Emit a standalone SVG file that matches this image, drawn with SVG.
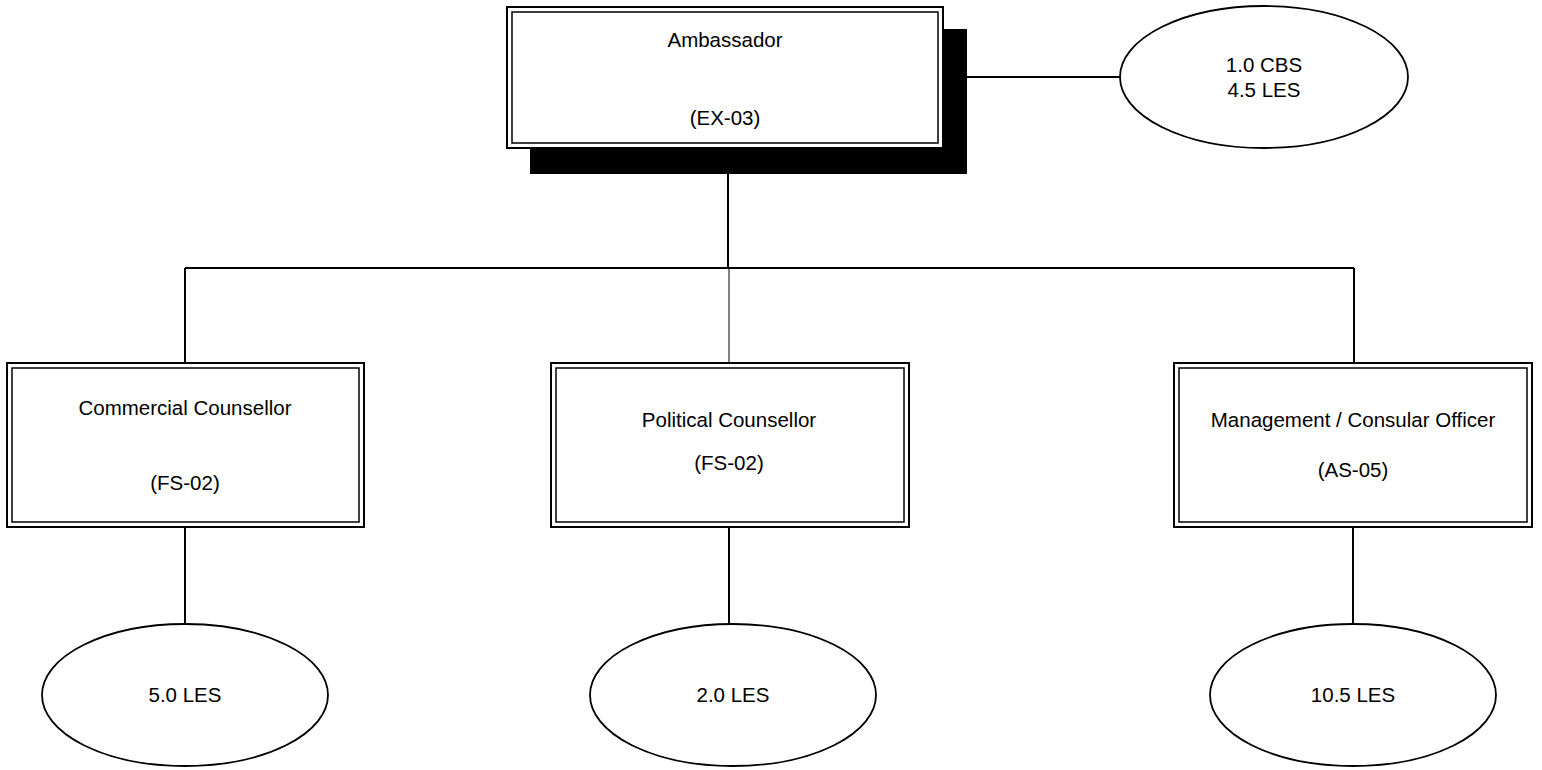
<svg xmlns="http://www.w3.org/2000/svg" width="1542" height="770" viewBox="0 0 1542 770">
<style>
.box{fill:#fff;stroke:#000;stroke-width:2}
.inner{fill:none;stroke:#000;stroke-width:1.5}
.ell{fill:#fff;stroke:#000;stroke-width:1.8}
.ln{stroke:#000;stroke-width:2;fill:none}
.thin{stroke:#000;stroke-width:1;fill:none}
text{font-family:"Liberation Sans",Arial,sans-serif;font-size:20.5px;fill:#000;text-anchor:middle}
</style>
<rect width="1542" height="770" fill="#fff"/>
<g id="connectors">
<line class="ln" x1="967" y1="77" x2="1120" y2="77"/>
<line class="ln" x1="728" y1="174" x2="728" y2="268"/>
<line class="ln" x1="185" y1="268" x2="1354" y2="268"/>
<line class="ln" x1="185" y1="268" x2="185" y2="363"/>
<line class="thin" x1="729" y1="268" x2="729" y2="363"/>
<line class="ln" x1="1354" y1="268" x2="1354" y2="363"/>
<line class="ln" x1="185" y1="527" x2="185" y2="624"/>
<line class="ln" x1="729" y1="527" x2="729" y2="624"/>
<line class="ln" x1="1353" y1="527" x2="1353" y2="624"/>
</g>
<g id="ambassador">
<rect x="530" y="29" width="437" height="145" fill="#000"/>
<rect class="box" x="507" y="7" width="436" height="141"/>
<rect class="inner" x="512" y="12" width="426" height="131"/>
<text x="725" y="47">Ambassador</text>
<text x="725" y="125">(EX-03)</text>
</g>
<g id="cbs">
<ellipse class="ell" cx="1264" cy="77" rx="144" ry="71"/>
<text x="1264" y="72">1.0 CBS</text>
<text x="1264" y="97">4.5 LES</text>
</g>
<g id="commercial">
<rect class="box" x="7" y="363" width="357" height="164"/>
<rect class="inner" x="12" y="368" width="347" height="154"/>
<text x="185" y="415">Commercial Counsellor</text>
<text x="185" y="490">(FS-02)</text>
</g>
<g id="political">
<rect class="box" x="551" y="363" width="358" height="164"/>
<rect class="inner" x="556" y="368" width="348" height="154"/>
<text x="729" y="427">Political Counsellor</text>
<text x="729" y="470">(FS-02)</text>
</g>
<g id="management">
<rect class="box" x="1174" y="363" width="358" height="164"/>
<rect class="inner" x="1179" y="368" width="348" height="154"/>
<text x="1353" y="427">Management / Consular Officer</text>
<text x="1353" y="477">(AS-05)</text>
</g>
<g id="les5">
<ellipse class="ell" cx="185" cy="695" rx="143" ry="71"/>
<text x="185" y="702">5.0 LES</text>
</g>
<g id="les2">
<ellipse class="ell" cx="733" cy="695" rx="143" ry="71"/>
<text x="733" y="702">2.0 LES</text>
</g>
<g id="les10">
<ellipse class="ell" cx="1353" cy="695" rx="143" ry="71"/>
<text x="1353" y="702">10.5 LES</text>
</g>
</svg>
